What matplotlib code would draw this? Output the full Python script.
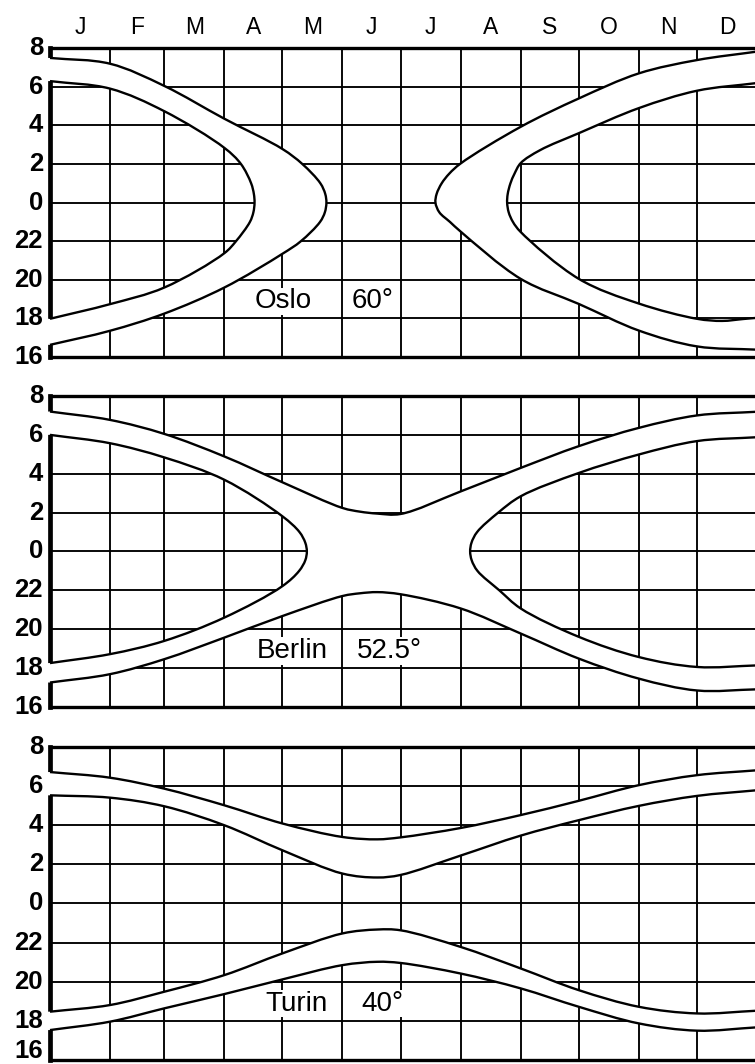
import numpy as np
import matplotlib
matplotlib.use("Agg")
import matplotlib.pyplot as plt
from matplotlib.path import Path
from matplotlib.patches import PathPatch

# ---------------- data (days of year, clock hours) ----------------
MONTHS = ["J", "F", "M", "A", "M", "J", "J", "A", "S", "O", "N", "D"]
MONTH_START_DAYS = [0, 31, 59, 90, 120, 151, 181, 212, 243, 273, 304, 334, 365]
HOUR_GRID = [16, 18, 20, 22, 24, 26, 28, 30, 32]
HOUR_LABELS = ["16", "18", "20", "22", "0", "2", "4", "6", "8"]
CITIES = ["Oslo", "Berlin", "Turin"]
LATITUDES = ["60°", "52.5°", "40°"]

# Oslo: both boundaries are closed "C" shapes (upper branch -> tip -> lower branch)
OSLO_OUTER_LEFT_DAY = [0, 31, 59, 90, 120, 130.3, 139.6, 142.1, 142.7, 141.9, 139.4, 129.5, 120, 90, 59, 31, 0]
OSLO_OUTER_LEFT_HOUR = [7.5, 7.2, 6.05, 4.35, 2.78, 2.0, 1.0, 0.45, 0.0, 23.5, 23.0, 22.0, 21.35, 19.6, 18.25, 17.36, 16.63]
OSLO_INNER_LEFT_DAY = [0, 31, 59, 90, 98.6, 103.85, 105.25, 105.6, 105.0, 103.2, 96, 90, 59, 31, 0]
OSLO_INNER_LEFT_HOUR = [6.3, 5.91, 4.74, 2.84, 2.0, 1.0, 0.45, 0.0, 23.5, 23.0, 22.0, 21.38, 19.6, 18.74, 17.98]
OSLO_OUTER_RIGHT_DAY = [365, 334, 304, 273, 243, 212, 206.1, 202.2, 199.6, 199, 201.0, 206.5, 212, 243, 273, 304, 334, 365]
OSLO_OUTER_RIGHT_HOUR = [7.83, 7.39, 6.7, 5.4, 3.93, 2.03, 1.5, 1.0, 0.45, 0.0, 23.5, 23.0, 22.5, 20.05, 18.75, 17.37, 16.55, 16.38]
OSLO_INNER_RIGHT_DAY = [365, 334, 304, 273, 253, 243, 239.8, 237.7, 236.3, 236, 236.8, 239.0, 243, 273, 304, 334, 347, 358, 365]
OSLO_INNER_RIGHT_HOUR = [6.2, 5.8, 4.9, 3.6, 2.72, 2.05, 1.5, 1.0, 0.45, 0.0, 23.5, 23.0, 22.48, 20.05, 18.77, 17.98, 17.87, 17.97, 18.03]

# Berlin: outer boundary runs all year, inner boundary forms two "C" shapes
BERLIN_OUTER_DAY = [0, 31, 59, 90, 120, 151, 160, 169, 181, 212, 243, 273, 304, 334, 365]
BERLIN_OUTER_MORNING = [7.2, 6.77, 6.05, 4.89, 3.56, 2.24, 2.05, 1.95, 1.93, 3.09, 4.3, 5.42, 6.36, 7.0, 7.19]
BERLIN_OUTER_EVENING = [17.26, 17.69, 18.46, 19.57, 20.68, 21.71, 21.85, 21.91, 21.8, 21.07, 19.78, 18.49, 17.46, 16.85, 16.91]
BERLIN_INNER_LEFT_DAY = [0, 31, 59, 90, 120, 128.8, 131.8, 132.6, 131.8, 128.6, 120, 90, 59, 31, 0]
BERLIN_INNER_LEFT_HOUR = [6.0, 5.57, 4.84, 3.69, 1.81, 1.0, 0.45, 0.0, 23.55, 23.0, 22.22, 20.6, 19.4, 18.72, 18.26]
BERLIN_INNER_RIGHT_DAY = [365, 334, 304, 273, 243, 231.4, 220.5, 217.6, 216.9, 217.7, 220.7, 232, 243, 273, 304, 334, 365]
BERLIN_INNER_RIGHT_HOUR = [5.88, 5.68, 4.99, 4.04, 2.84, 2.0, 1.0, 0.45, 0.0, 23.55, 23.0, 22.0, 21.07, 19.61, 18.57, 18.06, 18.14]

# Turin: all four boundaries run all year
TURIN_DAY = [0, 31, 59, 90, 120, 151, 169, 181, 212, 243, 273, 304, 334, 365]
TURIN_OUTER_MORNING = [6.72, 6.43, 5.87, 5.02, 4.09, 3.4, 3.28, 3.38, 3.86, 4.52, 5.25, 6.05, 6.56, 6.81]
TURIN_INNER_MORNING = [5.53, 5.41, 4.97, 4.0, 2.72, 1.53, 1.33, 1.46, 2.45, 3.47, 4.26, 4.99, 5.5, 5.79]
TURIN_INNER_EVENING = [18.47, 18.81, 19.49, 20.34, 21.45, 22.47, 22.67, 22.63, 21.78, 20.68, 19.57, 18.72, 18.38, 18.52]
TURIN_OUTER_EVENING = [17.53, 17.96, 18.64, 19.37, 20.12, 20.85, 21.02, 20.96, 20.42, 19.66, 18.72, 17.87, 17.5, 17.67]

# ---------------- helpers ----------------
FIG_W, FIG_H = 755, 1064
X0_PX, PX_PER_DAY = 50.0, 1.937
PANELS_PX = [(48.3, 357.0), (396.0, 707.0), (747.0, 1060.0)]
XL, XR = -3.0, 368.0
YL, YH = 15.6, 32.4
SY = 19.4  # approx pixels per hour (for smooth-curve geometry only)


def to_axis(hours):
    h = np.asarray(hours, dtype=float)
    return np.where(h < 12, h + 24, h)   # 16..24 evening, 24..32 next morning


def smooth_segments(xs, ys):
    """Centripetal Catmull-Rom through the given points, as cubic Bezier segments."""
    P = np.column_stack([np.asarray(xs, float) * PX_PER_DAY, np.asarray(ys, float) * SY])
    n = len(P)
    ext = np.vstack([2 * P[0] - P[1], P, 2 * P[-1] - P[-2]])
    verts = []
    for i in range(n - 1):
        p0, p1, p2, p3 = ext[i], ext[i + 1], ext[i + 2], ext[i + 3]
        l1 = np.hypot(*(p1 - p0)); l2 = np.hypot(*(p2 - p1)); l3 = np.hypot(*(p3 - p2))
        d1, d2, d3 = np.sqrt(l1), np.sqrt(l2), np.sqrt(l3)
        b1 = (l1 * p2 - l2 * p0 + (2 * l1 + 3 * d1 * d2 + l2) * p1) / (3 * d1 * (d1 + d2))
        b2 = (l3 * p1 - l2 * p3 + (2 * l3 + 3 * d3 * d2 + l2) * p2) / (3 * d3 * (d3 + d2))
        verts += [b1, b2, p2]
    verts = np.array(verts)
    verts[:, 0] /= PX_PER_DAY
    verts[:, 1] /= SY
    return [tuple(v) for v in verts], [Path.CURVE4] * len(verts)


def curve_path(days, hours):
    v = to_axis(hours)
    sv, sc = smooth_segments(days, v)
    return Path([(days[0], v[0])] + sv, [Path.MOVETO] + sc)


def c_region(days, hours, side):
    v = to_axis(hours)
    edge = XL if side == "left" else XR
    sv, sc = smooth_segments(days, v)
    verts = [(edge, v[0]), (days[0], v[0])] + sv + [(edge, v[-1]), (edge, v[0])]
    codes = [Path.MOVETO, Path.LINETO] + sc + [Path.LINETO, Path.CLOSEPOLY]
    return verts, codes


def band_region(days, upper, lower):
    u = to_axis(upper)
    l = to_axis(lower)
    d = list(days)
    su, cu = smooth_segments(d, u)
    sl, cl = smooth_segments(d[::-1], l[::-1])
    verts = ([(XL, u[0]), (d[0], u[0])] + su + [(XR, u[-1]), (XR, l[-1]), (d[-1], l[-1])]
             + sl + [(XL, l[0]), (XL, u[0])])
    codes = ([Path.MOVETO, Path.LINETO] + cu + [Path.LINETO, Path.LINETO, Path.LINETO]
             + cl + [Path.LINETO, Path.CLOSEPOLY])
    return verts, codes


def compound(regions):
    verts, codes = [], []
    for v, c in regions:
        verts += v
        codes += c
    return Path(verts, codes)


GRID_LW = 1.35
CURVE_LW = 1.7
EDGE_LW = 3.4


def draw_grid(ax, z, clip=None):
    arts = []
    for d in MONTH_START_DAYS[1:]:
        arts += ax.plot([d, d], [16, 32], color="black", lw=GRID_LW, zorder=z)
    for v in HOUR_GRID[1:-1]:
        arts += ax.plot([0, XR], [v, v], color="black", lw=GRID_LW, zorder=z)
    arts += ax.plot([0, 0], [16, 32], color="black", lw=EDGE_LW, zorder=z,
                    solid_capstyle="projecting")
    if clip is not None:
        for a in arts:
            a.set_clip_path(clip)


fig = plt.figure(figsize=(FIG_W / 100, FIG_H / 100), dpi=100)
fig.patch.set_facecolor("white")
plt.rcParams["font.family"] = ["Liberation Sans", "DejaVu Sans"]

panel_data = [
    dict(a=[c_region(OSLO_OUTER_LEFT_DAY, OSLO_OUTER_LEFT_HOUR, "left"),
            c_region(OSLO_OUTER_RIGHT_DAY, OSLO_OUTER_RIGHT_HOUR, "right")],
         b=[c_region(OSLO_INNER_LEFT_DAY, OSLO_INNER_LEFT_HOUR, "left"),
            c_region(OSLO_INNER_RIGHT_DAY, OSLO_INNER_RIGHT_HOUR, "right")],
         lines=[(OSLO_OUTER_LEFT_DAY, OSLO_OUTER_LEFT_HOUR),
                (OSLO_OUTER_RIGHT_DAY, OSLO_OUTER_RIGHT_HOUR),
                (OSLO_INNER_LEFT_DAY, OSLO_INNER_LEFT_HOUR),
                (OSLO_INNER_RIGHT_DAY, OSLO_INNER_RIGHT_HOUR)],
         name_x=120.3, lat_x=155.5),
    dict(a=[band_region(BERLIN_OUTER_DAY, BERLIN_OUTER_MORNING, BERLIN_OUTER_EVENING)],
         b=[c_region(BERLIN_INNER_LEFT_DAY, BERLIN_INNER_LEFT_HOUR, "left"),
            c_region(BERLIN_INNER_RIGHT_DAY, BERLIN_INNER_RIGHT_HOUR, "right")],
         lines=[(BERLIN_OUTER_DAY, BERLIN_OUTER_MORNING),
                (BERLIN_OUTER_DAY, BERLIN_OUTER_EVENING),
                (BERLIN_INNER_LEFT_DAY, BERLIN_INNER_LEFT_HOUR),
                (BERLIN_INNER_RIGHT_DAY, BERLIN_INNER_RIGHT_HOUR)],
         name_x=125.2, lat_x=158.5),
    dict(a=[band_region(TURIN_DAY, TURIN_OUTER_MORNING, TURIN_OUTER_EVENING)],
         b=[band_region(TURIN_DAY, TURIN_INNER_MORNING, TURIN_INNER_EVENING)],
         lines=[(TURIN_DAY, TURIN_OUTER_MORNING), (TURIN_DAY, TURIN_INNER_MORNING),
                (TURIN_DAY, TURIN_INNER_EVENING), (TURIN_DAY, TURIN_OUTER_EVENING)],
         name_x=127.3, lat_x=160.5),
]

for i, ((top, bot), pdat) in enumerate(zip(PANELS_PX, panel_data)):
    pph = (bot - top) / 16.0
    left_px = X0_PX + XL * PX_PER_DAY
    right_px = X0_PX + XR * PX_PER_DAY
    top_ax = top - (YH - 32) * pph
    bot_ax = bot + (16 - YL) * pph
    ax = fig.add_axes([left_px / FIG_W, 1 - bot_ax / FIG_H,
                       (right_px - left_px) / FIG_W, (bot_ax - top_ax) / FIG_H])
    ax.set_xlim(XL, XR)
    ax.set_ylim(YL, YH)
    ax.axis("off")

    draw_grid(ax, 1)
    ax.plot([0, XR], [32, 32], color="black", lw=2.4, zorder=5, solid_capstyle="projecting")
    ax.plot([0, XR], [16, 16], color="black", lw=2.4, zorder=5, solid_capstyle="projecting")

    ax.add_patch(PathPatch(compound(pdat["a"]), facecolor="white", edgecolor="none", zorder=2))
    clip = PathPatch(compound(pdat["b"]), transform=ax.transData)
    draw_grid(ax, 3, clip=clip)

    for d, h in pdat["lines"]:
        ax.add_patch(PathPatch(curve_path(d, h), facecolor="none", edgecolor="black",
                               lw=CURVE_LW, zorder=4, joinstyle="round", capstyle="butt"))

    for v, lab in zip(HOUR_GRID, HOUR_LABELS):
        yv = v + 0.45 if (i == 2 and v == 16) else v
        ax.text(-3.6, yv, lab, ha="right", va="center", fontsize=18.5,
                fontweight="bold", color="black", clip_on=False)

    box = dict(facecolor="white", edgecolor="none", pad=0.6)
    ax.text(pdat["name_x"], 18.88, CITIES[i], ha="center", va="center", fontsize=20,
            zorder=3.5, bbox=box)
    ax.text(pdat["lat_x"], 18.88, LATITUDES[i], ha="left", va="center", fontsize=20,
            zorder=3.5, bbox=box)

    if i == 0:
        for k, m in enumerate(MONTHS):
            mid = 0.5 * (MONTH_START_DAYS[k] + MONTH_START_DAYS[k + 1])
            ax.text(mid, 32 + (top - 28) / pph, m, ha="center", va="center",
                    fontsize=16.5, color="black", clip_on=False)

fig.savefig("out.png", dpi=100, facecolor="white")
